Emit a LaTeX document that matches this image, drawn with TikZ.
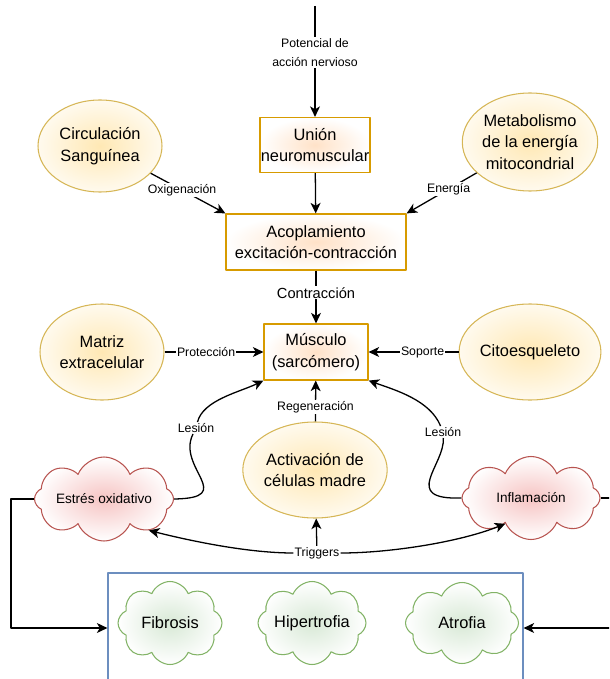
\documentclass[tikz,border=0pt]{standalone}
\usepackage{fontspec}
\setmainfont{Liberation Sans}
\usetikzlibrary{arrows.meta,shapes.geometric,shapes.symbols,positioning}

\definecolor{bordenaranja}{HTML}{D79B00}
\definecolor{bordeamarillo}{HTML}{D6B656}
\definecolor{borderojo}{HTML}{B85450}
\definecolor{bordeverde}{HTML}{82B366}
\definecolor{bordeazul}{HTML}{6C8EBF}
\definecolor{centronaranja}{HTML}{FFE2C8}
\definecolor{centroamarillo}{HTML}{FFE8B4}
\definecolor{bordeclaro}{HTML}{FFFAEE}
\definecolor{centrorojo}{HTML}{F6C4C3}
\definecolor{centroverde}{HTML}{D8E9D6}

\newcommand\textogrande{\fontsize{14}{18.5}\selectfont}
\newcommand\textonube{\fontsize{11.6}{14}\selectfont}
\newcommand\textoetiq{\fontsize{10.5}{17}\selectfont}

\begin{document}
\begin{tikzpicture}[x=0.03cm,y=-0.03cm,>={Stealth[length=9pt,width=8.5pt,inset=2.5pt]},line join=round,
    caja/.style={draw=bordenaranja,line width=1pt,inner color=centronaranja,outer color=white,align=center,inner sep=0pt,font=\textogrande},
    elipse/.style={ellipse,draw=bordeamarillo,line width=0.9pt,inner color=centroamarillo,outer color=bordeclaro,align=center,inner sep=0pt,minimum width={124*\px},minimum height={96*\px},font=\textogrande},
    nube/.style={cloud,cloud puffs=8,cloud puff arc=135,cloud ignores aspect,draw=borderojo,line width=0.9pt,inner color=centrorojo,outer color=white,inner sep=0pt,font=\textonube},
    nubeverde/.style={nube,draw=bordeverde,inner color=centroverde,outer color=white,font=\textogrande},
    etiq/.style={fill=white,inner sep=1pt,font=\textoetiq,align=center},
    flecha/.style={->,line width=1.1pt}]
  \def\px{0.03cm}
  \useasboundingbox (0,0) rectangle (609,679);
  \clip (0,0) rectangle (609,679);

  % cadena principal
  \node[caja,minimum width={110*\px},minimum height={55*\px}] (union) at (315,145) {Unión\\neuromuscular};
  \node[caja,minimum width={180*\px},minimum height={56*\px}] (acop) at (316,242) {Acoplamiento\\excitación-contracción};
  \node[caja,minimum width={104*\px},minimum height={56*\px}] (musculo) at (316,352) {Músculo\\(sarcómero)};

  % elipses
  \node[elipse,minimum height={92*\px}] (circ) at (100,146) {Circulación\\Sanguínea};
  \node[elipse,minimum width={125*\px},minimum height={98*\px}] (meta) at (530,142) {Metabolismo\\de la energía\\mitocondrial};
  \node[elipse] (matriz) at (102,352) {Matriz\\extracelular};
  \node[elipse,minimum width={125*\px}] (cito) at (530,352) {Citoesqueleto};
  \node[elipse] (activ) at (315,470) {Activación de\\células madre};

  % nubes
  \node[nube,minimum width={139*\px},minimum height={84*\px}] (estres) at (104,499) {Estrés oxidativo};
  \node[nube,minimum width={138*\px},minimum height={83*\px}] (inflam) at (531,498) {Inflamación};
  \node[draw=bordeazul,line width=1pt,minimum width={415*\px},minimum height={110*\px}] (grupo) at (315.5,628) {};
  \node[nubeverde,minimum width={104*\px},minimum height={83*\px}] (fibrosis) at (170,623) {Fibrosis};
  \node[nubeverde,minimum width={108*\px},minimum height={83*\px}] (hiper) at (312,623) {Hipertrofia};
  \node[nubeverde,minimum width={113*\px},minimum height={81*\px}] (atrofia) at (462,623) {Atrofia};

  % conexiones
  \coordinate (entrada) at (315,6);
  \draw[flecha] (entrada) -- node[etiq,pos=0.42]{Potencial de\\acción nervioso} (union);
  \draw[flecha] (union) -- (acop);
  \draw[flecha] (circ) -- node[etiq,pos=0.42]{Oxigenación} (acop.north west);
  \draw[flecha] (meta) -- node[etiq,pos=0.4]{Energía} (acop.north east);
  \draw[flecha] (acop) -- node[etiq,pos=0.42,font=\fontsize{12.5}{15}\selectfont]{Contracción} (musculo);
  \draw[flecha] (matriz) -- node[etiq,pos=0.42]{Protección} (musculo);
  \draw[flecha] (cito) -- node[etiq,pos=0.4]{Soporte} (musculo);
  \draw[flecha] (activ) -- node[etiq,pos=0.36]{Regeneración} (musculo);

  \node[etiq] (lesionL) at (196,428) {Lesión};
  \node[etiq] (lesionR) at (443,432) {Lesión};
  \draw[flecha] (estres.east) .. controls (238,498) and (176,468) .. (lesionL)
    .. controls (203,400) and (240,392) .. (musculo.south west);
  \draw[flecha] (inflam.west) .. controls (400,500) and (445,465) .. (lesionR)
    .. controls (430,400) and (395,390) .. (musculo.south east);

  \node[etiq] (trig) at (317,553) {Triggers};
  \draw[flecha] (trig) -- (activ);
  \draw[flecha] (trig) .. controls (250,553) and (195,542) .. (estres.-35);
  \draw[flecha] (trig) .. controls (390,553) and (460,542) .. (inflam.225);

  \draw[flecha] (estres.west) -- ++(-23,0) |- (grupo.west);
  \draw[line width=1.1pt] (inflam.east) -- ++(40,0);
  \coordinate (regreso) at (640,628);
  \draw[flecha] (regreso) -- (grupo.east);
\end{tikzpicture}
\end{document}
